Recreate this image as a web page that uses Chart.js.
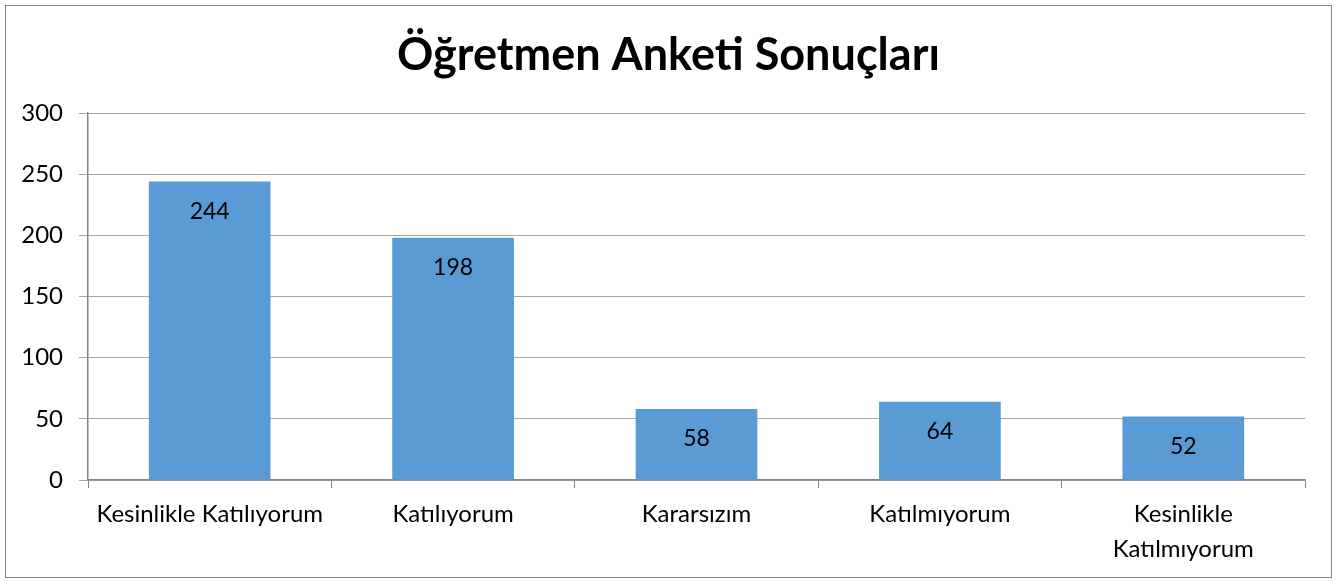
<!DOCTYPE html>
<html>
<head>
<meta charset="utf-8">
<script src="https://cdn.jsdelivr.net/npm/chart.js@4/dist/chart.umd.min.js"></script>
<style>
  html, body { margin:0; padding:0; background:#fff; }
  #wrap { width:1337px; height:581px; }
</style>
</head>
<body>
<div id="wrap"><canvas id="chart" width="1337" height="581"></canvas></div>
<script>
const titleText = 'Öğretmen Anketi Sonuçları';
const categories = [
  'Kesinlikle Katılıyorum',
  'Katılıyorum',
  'Kararsızım',
  'Katılmıyorum',
  ['Kesinlikle', 'Katılmıyorum']
];
const counts = [244, 198, 58, 64, 52];
const yMin = 0, yMax = 300, yStep = 50;

const FONT = 'Lato, "Open Sans", sans-serif';
const GRID = '#a6a6a6';
const AXIS = '#868686';

// chart frame
const framePlugin = {
  id: 'frame',
  beforeDraw(chart) {
    const c = chart.ctx;
    c.save();
    c.fillStyle = '#fff';
    c.fillRect(0, 0, chart.width, chart.height);
    c.strokeStyle = AXIS;
    c.lineWidth = 1;
    c.strokeRect(5.5, 5.5, chart.width - 11, chart.height - 9);
    c.restore();
  }
};

// value labels inside the bars, near the top
const valueLabels = {
  id: 'valueLabels',
  afterDatasetsDraw(chart) {
    const c = chart.ctx;
    const meta = chart.getDatasetMeta(0);
    c.save();
    c.font = '23px ' + FONT;
    c.fillStyle = '#000';
    c.textAlign = 'center';
    c.textBaseline = 'middle';
    meta.data.forEach((bar, i) => {
      c.fillText(String(counts[i]), bar.x, bar.y + 30);
    });
    c.restore();
  }
};

new Chart(document.getElementById('chart'), {
  type: 'bar',
  data: {
    labels: categories,
    datasets: [{
      data: counts,
      backgroundColor: '#5b9bd5',
      borderWidth: 0,
      barPercentage: 0.5,
      categoryPercentage: 1
    }]
  },
  options: {
    responsive: false,
    animation: false,
    layout: { padding: 0 },
    plugins: {
      legend: { display: false },
      tooltip: { enabled: false },
      title: {
        display: true,
        text: titleText,
        color: '#000',
        font: { family: FONT, size: 45, weight: 'bold' },
        padding: { top: 28, bottom: 31 }
      }
    },
    scales: {
      x: {
        offset: true,
        grid: { display: true, offset: true, drawOnChartArea: false, drawTicks: true, tickLength: 8, color: AXIS },
        border: { display: true, color: AXIS, width: 1.5 },
        ticks: { color: '#000', font: { family: FONT, size: 24, lineHeight: 1.45 }, padding: 9, maxRotation: 0, autoSkip: false },
        afterFit(s) { s.height = 101; }
      },
      y: {
        min: yMin, max: yMax,
        grid: { color: GRID, tickLength: 9, drawTicks: true },
        border: { display: true, color: AXIS, width: 1.5 },
        ticks: { stepSize: yStep, color: '#000', font: { family: FONT, size: 24 }, padding: 16 },
        afterFit(s) { s.width = 88; }
      },
      // empty right-hand spacer so the title stays centred on the whole frame
      spacer: {
        position: 'right',
        min: yMin, max: yMax,
        grid: { display: false, drawTicks: false },
        border: { display: false },
        ticks: { display: false },
        afterFit(s) { s.width = 32; }
      }
    }
  },
  plugins: [framePlugin, valueLabels]
});
</script>
</body>
</html>
